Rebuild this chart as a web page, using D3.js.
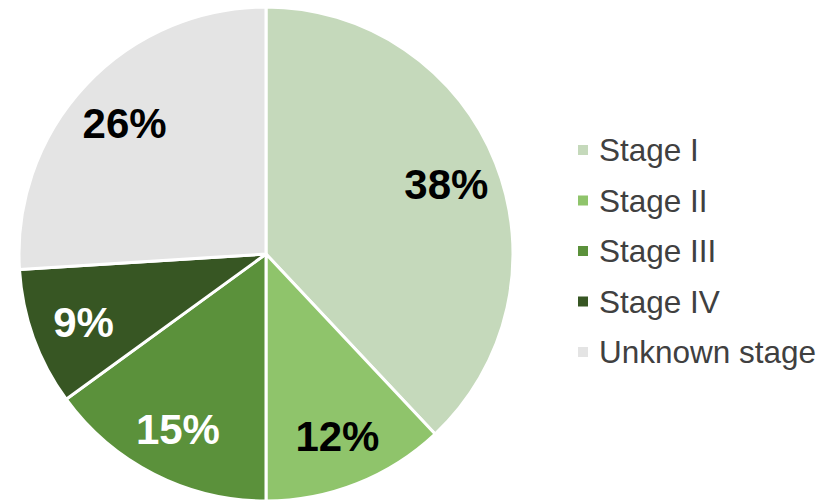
<!DOCTYPE html>
<html>
<head>
<meta charset="utf-8">
<script src="https://cdn.jsdelivr.net/npm/d3@7"></script>
<style>
  html, body { margin: 0; padding: 0; background: #ffffff; }
  svg { display: block; font-family: "Liberation Sans", Arial, sans-serif; }
</style>
</head>
<body>
<svg id="chart" width="830" height="500"></svg>
<script>
// Share of cases by stage at diagnosis
const stages = ["Stage I", "Stage II", "Stage III", "Stage IV", "Unknown stage"];
const shares = [38, 12, 15, 9, 26];
const sliceColors = ["#c5d9bb", "#8fc46b", "#5b913b", "#375623", "#e4e4e4"];
const labelColors = ["#000000", "#000000", "#ffffff", "#ffffff", "#000000"];

const svg = d3.select("#chart");
const cx = 266, cy = 254, radius = 247;

const data = stages.map((s, i) => ({ stage: s, value: shares[i] }));

const pie = d3.pie().value(d => d.value).sort(null);
const arcs = pie(data);

const arc = d3.arc().innerRadius(0).outerRadius(radius);
const labelArc = d3.arc().innerRadius(194).outerRadius(194);

const color = d3.scaleOrdinal().domain(stages).range(sliceColors);

const g = svg.append("g").attr("transform", `translate(${cx},${cy})`);

g.selectAll("path.slice")
  .data(arcs)
  .join("path")
  .attr("class", "slice")
  .attr("d", arc)
  .attr("fill", d => color(d.data.stage))
  .attr("stroke", "#ffffff")
  .attr("stroke-width", 3)
  .attr("stroke-linejoin", "round");

g.selectAll("text.pct")
  .data(arcs)
  .join("text")
  .attr("class", "pct")
  .attr("transform", d => `translate(${labelArc.centroid(d)})`)
  .attr("text-anchor", "middle")
  .attr("dy", "0.4em")
  .attr("font-size", 42)
  .attr("font-weight", "bold")
  .attr("fill", (d, i) => labelColors[i])
  .text(d => d.data.value + "%");

// Legend
const legend = svg.append("g").attr("transform", "translate(578,150)");
const rowH = 50.5;
const rows = legend.selectAll("g.row")
  .data(stages)
  .join("g")
  .attr("class", "row")
  .attr("transform", (d, i) => `translate(0,${i * rowH})`);

rows.append("rect")
  .attr("x", 0).attr("y", -5)
  .attr("width", 10).attr("height", 10)
  .attr("fill", d => color(d));

rows.append("text")
  .attr("x", 21)
  .attr("dy", "0.36em")
  .attr("font-size", 31.5)
  .attr("fill", "#404040")
  .text(d => d);
</script>
</body>
</html>
